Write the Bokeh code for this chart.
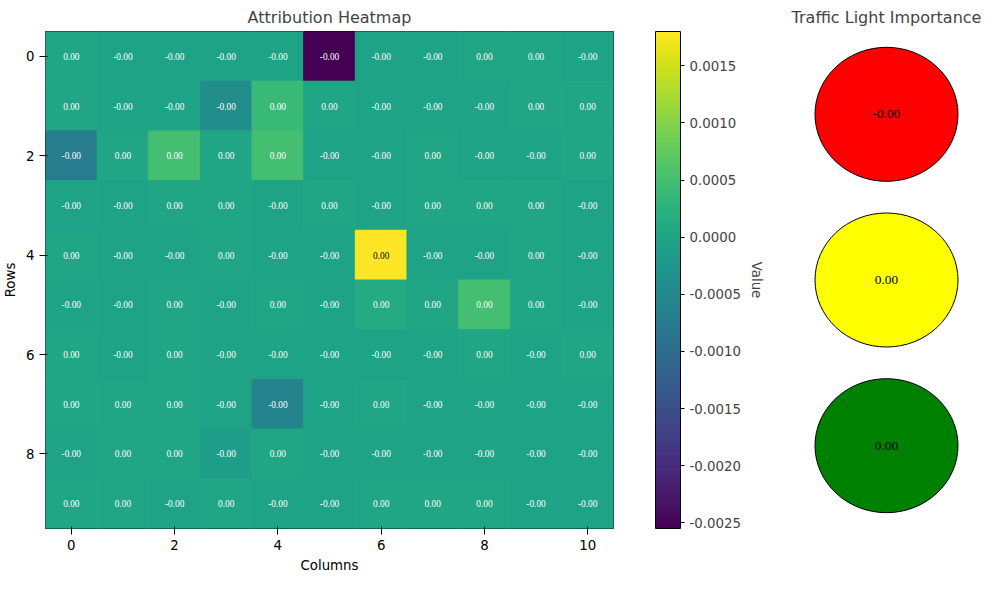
from bokeh.plotting import figure
from bokeh.models import (ColumnDataSource, LinearColorMapper, ColorBar, FixedTicker,
                          PrintfTickFormatter, Range1d, Title)
from bokeh.palettes import Viridis256
from bokeh.layouts import row
from bokeh.embed import file_html
from bokeh.resources import INLINE

FONT = "DejaVu Sans"

# attribution values, rows 0..9, columns 0..10
values = [
    [0.00002, -0.00002, -0.00002, -0.00002, -0.00002, -0.00255, -0.00002, -0.00002, 0.00002, 0.00002, -0.00002],
    [0.00002, -0.00002, -0.00002, -0.00040, 0.00040, 0.00002, -0.00002, -0.00002, -0.00002, 0.00002, 0.00002],
    [-0.00070, 0.00002, 0.00050, 0.00002, 0.00050, -0.00002, -0.00002, 0.00002, -0.00002, -0.00002, 0.00002],
    [-0.00002, -0.00002, 0.00002, 0.00002, -0.00002, 0.00002, -0.00002, 0.00002, 0.00002, 0.00002, -0.00002],
    [0.00002, -0.00002, -0.00002, 0.00002, -0.00002, -0.00002, 0.00180, -0.00002, -0.00002, 0.00002, -0.00002],
    [-0.00002, -0.00002, 0.00002, -0.00002, 0.00002, -0.00002, 0.00012, 0.00002, 0.00050, 0.00002, -0.00002],
    [0.00002, -0.00002, 0.00002, -0.00002, -0.00002, -0.00002, -0.00002, -0.00002, 0.00002, -0.00002, 0.00002],
    [0.00002, 0.00002, 0.00002, -0.00002, -0.00060, -0.00002, 0.00002, -0.00002, -0.00002, -0.00002, -0.00002],
    [-0.00002, 0.00002, 0.00002, -0.00012, 0.00002, -0.00002, -0.00002, -0.00002, -0.00002, -0.00002, -0.00002],
    [0.00002, 0.00002, -0.00002, 0.00002, -0.00002, -0.00002, 0.00002, 0.00002, 0.00002, -0.00002, -0.00002],
]
light_names = ["red", "yellow", "green"]
light_values = [-0.00001, 0.00001, 0.00001]
cbar_ticks = [-0.0025, -0.0020, -0.0015, -0.0010, -0.0005, 0.0, 0.0005, 0.0010, 0.0015]

xs, ys, vs, labels, tcolors = [], [], [], [], []
for r, rowvals in enumerate(values):
    for c, v in enumerate(rowvals):
        xs.append(c)
        ys.append(r)
        vs.append(v)
        labels.append(("-" if v < 0 else "") + "0.00")
        tcolors.append("black" if v > 0.0015 else "white")
src = ColumnDataSource(dict(x=xs, y=ys, v=vs, label=labels, tc=tcolors))

mapper = LinearColorMapper(palette=Viridis256, low=min(vs), high=max(vs))

p = figure(width=790, height=575, output_backend="svg", toolbar_location=None,
           x_range=Range1d(-0.5, 10.5), y_range=Range1d(9.5, -0.5),
           min_border_left=44, min_border_right=177, min_border_top=24, min_border_bottom=46,
           title="Attribution Heatmap")
p.title.align = "center"
p.title.text_font_style = "normal"
p.title.text_font_size = "12pt"
p.title.text_font = FONT
p.rect("x", "y", 1, 1, source=src, fill_color={"field": "v", "transform": mapper},
       line_color={"field": "v", "transform": mapper}, line_width=1)
p.text("x", "y", text="label", source=src, text_color="tc", text_font_size="7pt",
       text_font=FONT, text_align="center", text_baseline="middle")
p.xgrid.visible = False
p.ygrid.visible = False
p.outline_line_color = "black"
p.xaxis.ticker = FixedTicker(ticks=[0, 2, 4, 6, 8, 10])
p.yaxis.ticker = FixedTicker(ticks=[0, 2, 4, 6, 8])
p.xaxis.axis_label = "Columns"
p.yaxis.axis_label = "Rows"
for ax in (p.xaxis, p.yaxis):
    ax.minor_tick_line_color = None
    ax.axis_line_color = None
    ax.axis_label_text_font_style = "normal"
    ax.axis_label_text_font_size = "10pt"
    ax.axis_label_text_font = FONT
    ax.major_label_text_font_size = "10pt"
    ax.major_label_text_font = FONT
    ax.major_label_text_color = "black"
    ax.axis_label_text_color = "black"

# spacer between frame and colour bar
p.add_layout(Title(text=" ", text_font_size="26px"), "right")
cb = ColorBar(color_mapper=mapper, width=25, padding=0,
              ticker=FixedTicker(ticks=cbar_ticks),
              formatter=PrintfTickFormatter(format="%.4f"),
              major_label_text_font_size="10pt", major_label_text_font=FONT,
              bar_line_color="black", major_tick_line_color="black",
              major_tick_out=4, major_tick_in=0)
p.add_layout(cb, "right")
p.add_layout(Title(text="Value", align="center", text_font_style="normal",
                   text_font_size="10pt", text_font=FONT), "right")

lights = ColumnDataSource(dict(x=[0, 0, 0], y=[0, 1, 2], color=light_names,
                               label=[("-" if v < 0 else "") + "0.00" for v in light_values]))
q = figure(width=192, height=575, output_backend="svg", toolbar_location=None,
           x_range=Range1d(-1, 1), y_range=Range1d(2.5, -0.5),
           min_border_left=0, min_border_right=0, min_border_top=24, min_border_bottom=46,
           title="Traffic Light Importance")
q.title.align = "center"
q.title.text_font_style = "normal"
q.title.text_font_size = "12pt"
q.title.text_font = FONT
q.ellipse("x", "y", width=143, height=134, width_units="screen", height_units="screen",
          source=lights, fill_color="color", line_color="black")
q.text("x", "y", text="label", source=lights, text_color="black", text_font_size="10pt",
       text_font=FONT, text_align="center", text_baseline="middle")
q.axis.visible = False
q.grid.visible = False
q.outline_line_color = None

layout = row(p, q)
open("out.html", "w").write(file_html(layout, INLINE))
